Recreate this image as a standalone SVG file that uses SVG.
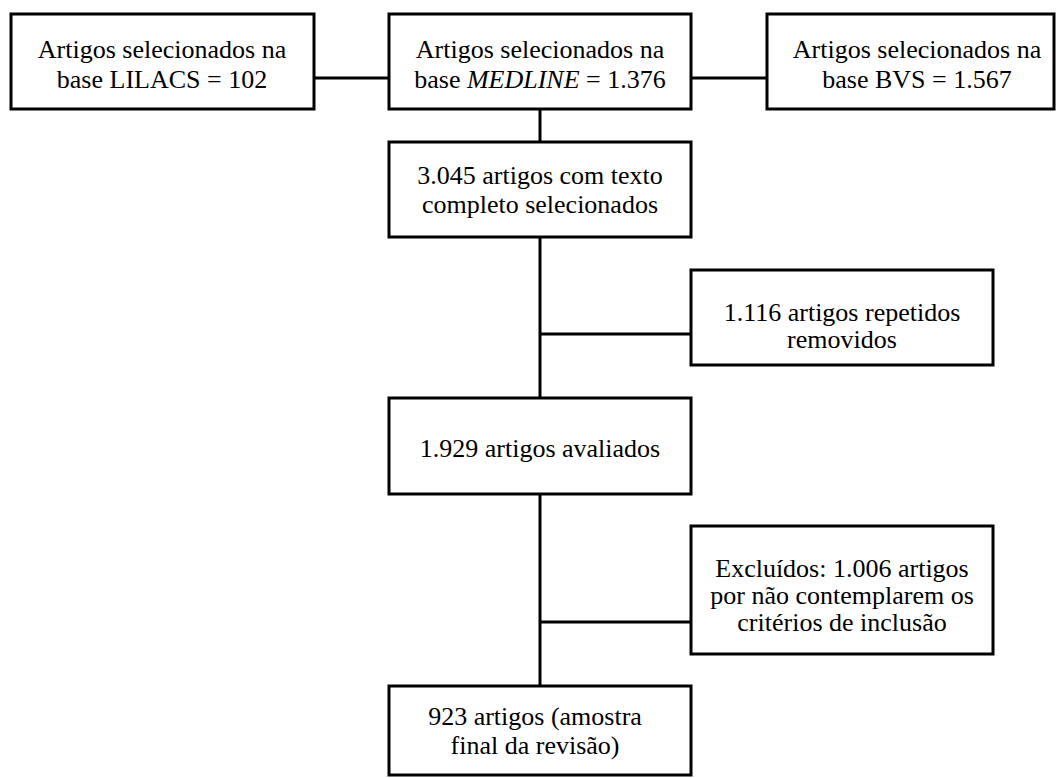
<svg xmlns="http://www.w3.org/2000/svg" width="1056" height="778" viewBox="0 0 1056 778">
<style>
rect.box{fill:#fff;stroke:#000;stroke-width:3}
.ln{stroke:#000;stroke-width:3;fill:none}
text{font-family:"Liberation Serif","Times New Roman",serif;font-size:26px;fill:#000;text-anchor:middle}
</style>
<rect width="1056" height="778" fill="#fff"/>
<g id="connectors">
<line class="ln" x1="314" y1="78" x2="389" y2="78"/>
<line class="ln" x1="691" y1="78" x2="767" y2="78"/>
<line class="ln" x1="540" y1="109" x2="540" y2="142"/>
<line class="ln" x1="540" y1="237" x2="540" y2="398"/>
<line class="ln" x1="540" y1="334" x2="691" y2="334"/>
<line class="ln" x1="540" y1="494" x2="540" y2="686"/>
<line class="ln" x1="540" y1="622" x2="691" y2="622"/>
</g>
<g id="lilacs">
<rect class="box" x="11" y="14" width="303" height="95"/>
<text x="162" y="58">Artigos selecionados na</text>
<text x="162" y="88">base LILACS = 102</text>
</g>
<g id="medline">
<rect class="box" x="389" y="14" width="302" height="95"/>
<text x="540" y="58">Artigos selecionados na</text>
<text x="540" y="88">base <tspan font-style="italic">MEDLINE</tspan> = 1.376</text>
</g>
<g id="bvs">
<rect class="box" x="767" y="14" width="287" height="95"/>
<text x="917" y="58">Artigos selecionados na</text>
<text x="917" y="88">base BVS = 1.567</text>
</g>
<g id="completos">
<rect class="box" x="389" y="142" width="302" height="95"/>
<text x="540" y="184">3.045 artigos com texto</text>
<text x="540" y="213">completo selecionados</text>
</g>
<g id="repetidos">
<rect class="box" x="691" y="270" width="302" height="95"/>
<text x="842" y="321">1.116 artigos repetidos</text>
<text x="842" y="348">removidos</text>
</g>
<g id="avaliados">
<rect class="box" x="389" y="398" width="302" height="96"/>
<text x="540" y="457">1.929 artigos avaliados</text>
</g>
<g id="excluidos">
<rect class="box" x="691" y="526" width="302" height="128"/>
<text x="842" y="577">Excluídos: 1.006 artigos</text>
<text x="842" y="604">por não contemplarem os</text>
<text x="842" y="631">critérios de inclusão</text>
</g>
<g id="final">
<rect class="box" x="389" y="686" width="302" height="89"/>
<text x="535" y="725">923 artigos (amostra</text>
<text x="535" y="754">final da revisão)</text>
</g>
</svg>
